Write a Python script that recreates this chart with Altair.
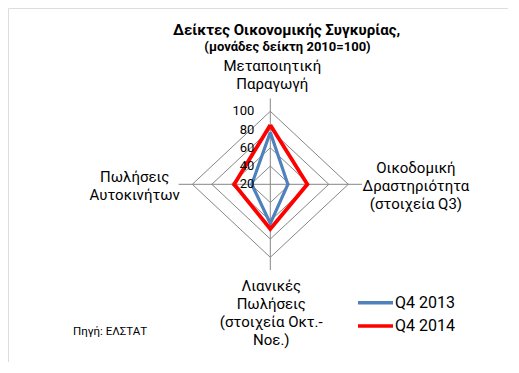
import math
import altair as alt
import pandas as pd

# ---- data ----
categories = [
    "Μεταποιητική\nΠαραγωγή",
    "Οικοδομική\nΔραστηριότητα\n(στοιχεία Q3)",
    "Λιανικές\nΠωλήσεις\n(στοιχεία Οκτ.-\nΝοε.)",
    "Πωλήσεις\nΑυτοκινήτων",
]
series_names = ["Q4 2013", "Q4 2014"]
q4_2013 = [77, 38, 63, 39]
q4_2014 = [85, 58, 69, 57]
series_colors = ["#4F81BD", "#FF0000"]
ring_levels = [40, 60, 80, 100]
tick_labels = [20, 40, 60, 80, 100]
axis_min = 20
axis_max = 100
title_text = "Δείκτες Οικονομικής Συγκυρίας,"
subtitle_text = "(μονάδες δείκτη 2010=100)"
source_text = "Πηγή: ΕΛΣΤΑΤ"

FONT = "Roboto"
GRID = "#868686"

# ---- tables built from the arrays ----
n = len(categories)
series_rows = []
for s, vals in zip(series_names, [q4_2013, q4_2014]):
    for i in range(n + 1):
        series_rows.append({"series": s, "order": i, "cat": i % n, "value": vals[i % n]})
series_df = pd.DataFrame(series_rows)

ring_rows = []
for lev in ring_levels:
    for i in range(n + 1):
        ring_rows.append({"level": lev, "order": i, "cat": i % n, "value": lev})
ring_df = pd.DataFrame(ring_rows)

spoke_df = pd.DataFrame({"cat": list(range(n)), "label": categories})
tick_df = pd.DataFrame({"value": tick_labels})

# scale setup (units = value - axis_min)
W, H = 500, 354
cx, cy = 262.3, 176.3
pxx = 78.0 / (axis_max - axis_min)
pxy = 73.0 / (axis_max - axis_min)
xdom = [-cx / pxx, (W - cx) / pxx]
ydom = [-(H - cy) / pxy, cy / pxy]
xs = alt.Scale(domain=xdom, nice=False, zero=False)
ys = alt.Scale(domain=ydom, nice=False, zero=False)
spoke_r = 94

def polar(chart):
    return chart.transform_calculate(
        r=f"datum.value - {axis_min}",
        ang=f"datum.cat * PI / 2",
    ).transform_calculate(
        px="datum.r * sin(datum.ang)",
        py="datum.r * cos(datum.ang)",
    )

X = alt.X("px:Q", scale=xs, axis=None)
Y = alt.Y("py:Q", scale=ys, axis=None)

spokes = alt.Chart(spoke_df).mark_rule(color=GRID, strokeWidth=1).transform_calculate(
    ang="datum.cat * PI / 2",
    zero="0",
).transform_calculate(
    px=f"{spoke_r} * sin(datum.ang)",
    py=f"{spoke_r} * cos(datum.ang)",
).encode(
    x=alt.X("zero:Q", scale=xs, axis=None),
    y=alt.Y("zero:Q", scale=ys, axis=None),
    x2="px:Q",
    y2="py:Q",
)

rings = polar(alt.Chart(ring_df)).mark_line(color=GRID, strokeWidth=1).encode(
    x=X, y=Y, order="order:Q", detail="level:N"
)

lines = polar(alt.Chart(series_df)).mark_line(strokeJoin="miter").encode(
    x=X,
    y=Y,
    order="order:Q",
    color=alt.Color("series:N", scale=alt.Scale(domain=series_names, range=series_colors), legend=None),
    strokeWidth=alt.StrokeWidth("series:N", scale=alt.Scale(domain=series_names, range=[3.2, 3.8]), legend=None),
)

ticks = alt.Chart(tick_df).transform_calculate(
    px="0", py=f"datum.value - {axis_min}"
).mark_text(align="right", baseline="middle", dx=-16, font=FONT, fontSize=13, color="#000").encode(
    x=X, y=Y, text="value:Q"
)

def cat_label(i, align, baseline, dx, dy):
    return alt.Chart(spoke_df).transform_filter(f"datum.cat == {i}").transform_calculate(
        ang="datum.cat * PI / 2",
    ).transform_calculate(
        px=f"{spoke_r} * sin(datum.ang)",
        py=f"{spoke_r} * cos(datum.ang)",
    ).mark_text(
        align=align, baseline=baseline, dx=dx, dy=dy, lineBreak="\n", lineHeight=18,
        font=FONT, fontSize=15, color="#000",
    ).encode(x=X, y=Y, text="label:N")

labels = [
    cat_label(0, "center", "bottom", 2, -25),
    cat_label(1, "center", "middle", 54, -16),
    cat_label(2, "center", "top", 1, 9),
    cat_label(3, "center", "middle", -44, -7),
]

def fixed_text(txt, x, y, size, bold=False, align="center"):
    return alt.Chart(pd.DataFrame({"t": [txt]})).mark_text(
        align=align, baseline="middle", font=FONT, fontSize=size,
        fontWeight="bold" if bold else "normal", color="#000",
    ).encode(x=alt.value(x), y=alt.value(y), text="t:N")

texts = [
    fixed_text(title_text, 278.5, 22, 15, True),
    fixed_text(subtitle_text, 279.5, 39, 13, True),
    fixed_text(source_text, 65, 324, 11.5, False, "left"),
]

legend_layers = []
for i, (name, col) in enumerate(zip(series_names, series_colors)):
    yy = 294.7 + i * 23.3
    legend_layers.append(
        alt.Chart(pd.DataFrame({"s": [name]})).mark_rule(color=col, strokeWidth=3.5).encode(
            x=alt.value(350), x2=alt.value(385), y=alt.value(yy)
        )
    )
    legend_layers.append(
        alt.Chart(pd.DataFrame({"s": [name]})).mark_text(
            align="left", baseline="middle", font=FONT, fontSize=16, color="#000"
        ).encode(x=alt.value(387), y=alt.value(yy), text="s:N")
    )

chart = alt.layer(
    spokes, rings, lines, ticks, *labels, *texts, *legend_layers
).properties(
    width=W, height=H, autosize=alt.AutoSizeParams(type="none"), padding=0
).configure_view(stroke=None).configure(background="#ffffff")

chart.save("out.html", embed_options={"renderer": "svg", "actions": False})
